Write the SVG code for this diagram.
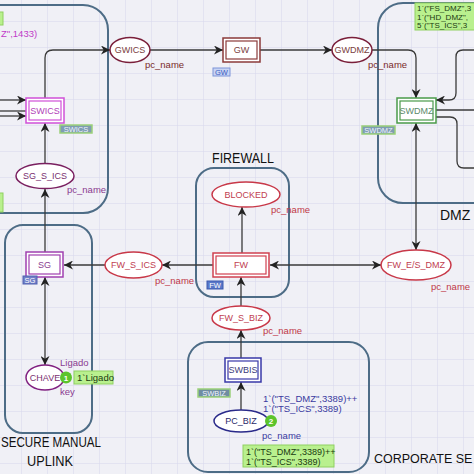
<svg xmlns="http://www.w3.org/2000/svg" width="474" height="474" viewBox="0 0 474 474">
<defs>
<pattern id="grid" x="21" y="21" width="26" height="26" patternUnits="userSpaceOnUse">
<path d="M0,0 H26 M0,0 V26" fill="none" stroke="#d6d6ec" stroke-width="1"/>
</pattern>
<marker id="arr" viewBox="0 0 10 10" refX="10" refY="5" markerWidth="9" markerHeight="9" markerUnits="userSpaceOnUse" orient="auto-start-reverse">
<path d="M0,0 L10,5 L0,10 L3,5 z" fill="#222"/>
</marker>
</defs>
<style>
.box{fill:none;stroke:#4d6c86;stroke-width:2}
.title{font-family:"Liberation Sans",Arial,sans-serif;font-size:14px;fill:#111}
.t{font-family:"Liberation Sans",Arial,sans-serif;font-size:9px;text-anchor:middle}
.lbl{font-family:"Liberation Sans",Arial,sans-serif;font-size:9.5px}
.mk{font-family:"Liberation Sans",Arial,sans-serif;font-size:8px;fill:#1a3a10}
.arc{fill:none;stroke:#3a3a3a;stroke-width:1.3}
.green{fill:#b9f08e;stroke:#8fd060;stroke-width:1}
.tok{fill:#5cc42c}
.tokt{font-family:"Liberation Sans",Arial,sans-serif;font-size:8px;font-weight:bold;fill:#fff;text-anchor:middle}
.tagt{font-family:"Liberation Sans",Arial,sans-serif;font-size:7.5px;text-anchor:middle}
</style>
<rect width="474" height="474" fill="#f0f0f6"/>
<rect width="474" height="474" fill="url(#grid)"/>

<g id="regions">
<rect class="box" x="-30" y="5" width="138" height="208" rx="25"/>
<rect class="box" x="378" y="3" width="130" height="200" rx="25"/>
<rect class="box" x="196" y="168" width="93" height="129" rx="18"/>
<rect class="box" x="5" y="225" width="87" height="208" rx="18"/>
<rect class="box" x="188" y="342" width="181" height="130" rx="20"/>
<text class="title" x="212" y="163" textLength="62" lengthAdjust="spacingAndGlyphs">FIREWALL</text>
<text class="title" x="440" y="220">DMZ</text>
<text class="title" x="1" y="447" textLength="100" lengthAdjust="spacingAndGlyphs">SECURE MANUAL</text>
<text class="title" x="27" y="466" textLength="46" lengthAdjust="spacingAndGlyphs">UPLINK</text>
<text class="title" x="374" y="463" style="font-size:12.5px">CORPORATE SE</text>
</g>

<g id="connectors">
<path class="arc" d="M45,98 V58 Q45,50 53,50 H110" marker-end="url(#arr)"/>
<path class="arc" d="M150,50 H223" marker-end="url(#arr)"/>
<path class="arc" d="M260,50 H332" marker-end="url(#arr)"/>
<path class="arc" d="M372,50 H408 Q416,50 416,58 V98" marker-end="url(#arr)"/>
<path class="arc" d="M474,50 H463 Q456,50 456,57 V93 Q456,100 449,100 H436" marker-end="url(#arr)"/>
<path class="arc" d="M436,110 H474"/>
<path class="arc" d="M436,117 H450 Q457,117 457,124 V161 Q457,168 464,168 H474"/>
<path class="arc" d="M416,123 V250" marker-start="url(#arr)" marker-end="url(#arr)"/>
<path class="arc" d="M270,265 H381" marker-start="url(#arr)" marker-end="url(#arr)"/>
<path class="arc" d="M242,253 V207" marker-end="url(#arr)"/>
<path class="arc" d="M213,265 H162" marker-end="url(#arr)"/>
<path class="arc" d="M105,265 H64" marker-end="url(#arr)"/>
<path class="arc" d="M241,306 V277" marker-end="url(#arr)"/>
<path class="arc" d="M241,358 V330" marker-end="url(#arr)"/>
<path class="arc" d="M241,410 V382" marker-end="url(#arr)"/>
<path class="arc" d="M45,277 V365" marker-start="url(#arr)" marker-end="url(#arr)"/>
<path class="arc" d="M45,252 V189" marker-end="url(#arr)"/>
<path class="arc" d="M45,163 V123" marker-end="url(#arr)"/>
<path class="arc" d="M0,100 H26" marker-end="url(#arr)"/>
<path class="arc" d="M0,111 H26"/>
<path class="arc" d="M0,116 H26" marker-end="url(#arr)"/>
</g>

<g id="edge-marks">
<rect class="green" x="-6" y="12" width="9" height="13"/>
<text class="lbl" x="1" y="37" fill="#c03cc8">Z",1433)</text>
<rect class="green" x="-6" y="193" width="9" height="19"/>
<rect class="green" x="415" y="3" width="70" height="27"/>
<text class="mk" x="417" y="11">1`("FS_DMZ",3</text>
<text class="mk" x="417" y="19.5">1`("HD_DMZ",</text>
<text class="mk" x="417" y="28">5`("TS_ICS",3</text>
</g>

<g id="SWICS">
<rect x="26" y="98" width="38" height="25" fill="#fff" stroke="#d050d8" stroke-width="1.5"/>
<rect x="29" y="101" width="32" height="19" fill="#fff" stroke="#d050d8" stroke-width="1.2"/>
<text class="t" x="45" y="114" fill="#b040b8">SWICS</text>
<rect x="60" y="125" width="32" height="8" fill="#7f9db2" stroke="#9ad07a" stroke-width="1.5"/>
<text class="tagt" x="76" y="132" fill="#eef4ff">SWICS</text>
</g>

<g id="GWICS">
<ellipse cx="130" cy="50" rx="20" ry="12.5" fill="#fff" stroke="#7a1f3a" stroke-width="1.5"/>
<text class="t" x="130" y="53" fill="#7a4040">GWICS</text>
<text class="lbl" x="145" y="68" fill="#7a2a2a">pc_name</text>
</g>

<g id="GW">
<rect x="223" y="38" width="37" height="24" fill="#fff" stroke="#8b3a3a" stroke-width="1.5"/>
<rect x="226" y="41" width="31" height="18" fill="#fff" stroke="#8b3a3a" stroke-width="1.2"/>
<text class="t" x="241.5" y="53" fill="#7a4040">GW</text>
<rect x="213" y="68" width="17" height="8" fill="#c8d4f4" stroke="#7d94d8" stroke-width="1"/>
<text class="tagt" x="221.5" y="75" fill="#3a5ac0">GW</text>
</g>

<g id="GWDMZ">
<ellipse cx="352" cy="50" rx="20" ry="12.5" fill="#fff" stroke="#7a1f3a" stroke-width="1.5"/>
<text class="t" x="352" y="53" fill="#7a4040">GWDMZ</text>
<text class="lbl" x="368" y="68" fill="#7a2a2a">pc_name</text>
</g>

<g id="SWDMZ">
<rect x="397" y="98" width="39" height="25" fill="#fff" stroke="#4a9a4a" stroke-width="1.5"/>
<rect x="400" y="101" width="33" height="19" fill="#fff" stroke="#4a9a4a" stroke-width="1.2"/>
<text class="t" x="416.5" y="114" fill="#5a8a6a">SWDMZ</text>
<rect x="362" y="126" width="33" height="8" fill="#7f9db2" stroke="#9ad07a" stroke-width="1.5"/>
<text class="tagt" x="378.5" y="133" fill="#eef4ff">SWDMZ</text>
</g>

<g id="SG_S_ICS">
<ellipse cx="45" cy="176" rx="29" ry="12.5" fill="#fff" stroke="#7a2060" stroke-width="1.5"/>
<text class="t" x="45" y="179" fill="#7a3070">SG_S_ICS</text>
<text class="lbl" x="67" y="193" fill="#8a3a90">pc_name</text>
</g>

<g id="BLOCKED">
<ellipse cx="246" cy="194.5" rx="34" ry="12.5" fill="#fff" stroke="#c83848" stroke-width="1.5"/>
<text class="t" x="246" y="198" fill="#c04050">BLOCKED</text>
<text class="lbl" x="271" y="213" fill="#c03848">pc_name</text>
</g>

<g id="FW">
<rect x="213" y="253" width="56" height="24" fill="#fff" stroke="#d04050" stroke-width="1.5"/>
<rect x="216" y="256" width="50" height="18" fill="#fff" stroke="#d04050" stroke-width="1.2"/>
<text class="t" x="241" y="268" fill="#c04050">FW</text>
<rect x="207" y="281" width="16" height="8" fill="#5a78c8" stroke="#3a58b0" stroke-width="1"/>
<text class="tagt" x="215" y="288" fill="#fff">FW</text>
</g>

<g id="FW_S_ICS">
<ellipse cx="133.5" cy="265" rx="28.5" ry="13" fill="#fff" stroke="#c83848" stroke-width="1.5"/>
<text class="t" x="133.5" y="268" fill="#c04050">FW_S_ICS</text>
<text class="lbl" x="155" y="284" fill="#c03848">pc_name</text>
</g>

<g id="FW_E_S_DMZ">
<ellipse cx="416" cy="265" rx="35" ry="15" fill="#fff" stroke="#c83848" stroke-width="1.5"/>
<text class="t" x="416" y="268" fill="#c04050">FW_E/S_DMZ</text>
<text class="lbl" x="431" y="290" fill="#c03848">pc_name</text>
</g>

<g id="SG">
<rect x="26" y="252" width="37" height="25" fill="#fff" stroke="#a040b0" stroke-width="1.5"/>
<rect x="29" y="255" width="31" height="19" fill="#fff" stroke="#a040b0" stroke-width="1.2"/>
<text class="t" x="44.5" y="268" fill="#8a4090">SG</text>
<rect x="23" y="276" width="14" height="8" fill="#7080c8" stroke="#5060b0" stroke-width="1"/>
<text class="tagt" x="30" y="283" fill="#fff">SG</text>
</g>

<g id="CHAVE">
<ellipse cx="45" cy="377.5" rx="19" ry="12.5" fill="#fff" stroke="#802080" stroke-width="1.5"/>
<text class="t" x="45" y="381" fill="#7a3070">CHAVE</text>
<text class="lbl" x="60" y="366" fill="#8a3a90">Ligado</text>
<text class="lbl" x="60" y="395" fill="#8a3a90">key</text>
<circle class="tok" cx="66" cy="377.5" r="6"/>
<text class="tokt" x="66" y="380.5">1</text>
<rect class="green" x="74" y="371" width="39" height="13"/>
<text class="lbl" x="77" y="381" fill="#1a3a10">1`Ligado</text>
</g>

<g id="FW_S_BIZ">
<ellipse cx="241" cy="318" rx="29" ry="12" fill="#fff" stroke="#c83848" stroke-width="1.5"/>
<text class="t" x="241" y="321" fill="#c04050">FW_S_BIZ</text>
<text class="lbl" x="263" y="334" fill="#c03848">pc_name</text>
</g>

<g id="SWBIS">
<rect x="225" y="358" width="36" height="24" fill="#fff" stroke="#3838a8" stroke-width="1.5"/>
<rect x="228" y="361" width="30" height="18" fill="#fff" stroke="#3838a8" stroke-width="1.2"/>
<text class="t" x="243" y="373" fill="#3a3a7a">SWBIS</text>
<rect x="198" y="389" width="32" height="8" fill="#6f8da2" stroke="#9ad07a" stroke-width="1.5"/>
<text class="tagt" x="214" y="396" fill="#eef4ff">SWBIZ</text>
</g>

<g id="PC_BIZ">
<ellipse cx="241" cy="421" rx="27" ry="11" fill="#fff" stroke="#2a2a8a" stroke-width="1.5"/>
<text class="t" x="241" y="424" fill="#2a2a6a">PC_BIZ</text>
<circle class="tok" cx="271" cy="421" r="6"/>
<text class="tokt" x="271" y="424">2</text>
<text class="lbl" x="263" y="402" fill="#3a3aa0">1`("TS_DMZ",3389)++</text>
<text class="lbl" x="263" y="412" fill="#3a3aa0">1`("TS_ICS",3389)</text>
<text class="lbl" x="262" y="439" fill="#3a3aa0">pc_name</text>
<rect class="green" x="243" y="445" width="91" height="22"/>
<text class="lbl" x="246" y="455" fill="#1a3a10" style="font-size:9px">1`("TS_DMZ",3389)++</text>
<text class="lbl" x="246" y="465" fill="#1a3a10" style="font-size:9px">1`("TS_ICS",3389)</text>
</g>
</svg>
